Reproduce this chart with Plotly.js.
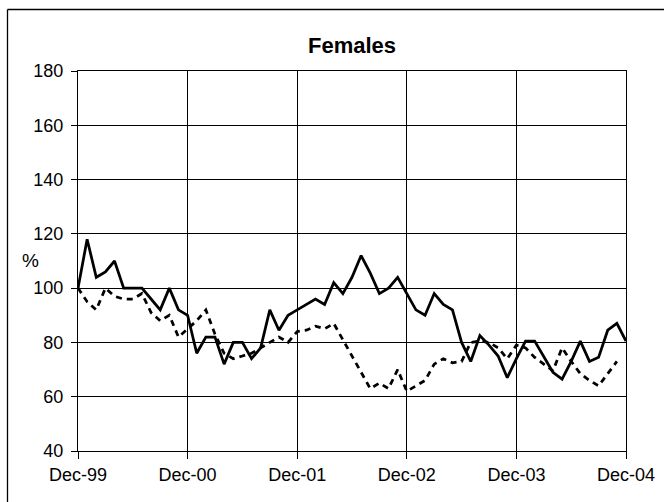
<!DOCTYPE html>
<html>
<head>
<meta charset="utf-8">
<script src="https://cdn.plot.ly/plotly-3.0.1.min.js"></script>
<style>
html,body{margin:0;padding:0;background:#fff;}
#chart{width:664px;height:502px;}
</style>
</head>
<body>
<div id="chart"></div>
<script>
// Month index 0 = Dec-99 ... 60 = Dec-04
const tickPositions = [0, 12, 24, 36, 48, 60];
const tickLabels = ["Dec-99", "Dec-00", "Dec-01", "Dec-02", "Dec-03", "Dec-04"];
const months = [0,1,2,3,4,5,6,7,8,9,10,11,12,13,14,15,16,17,18,19,20,21,22,23,24,25,26,27,28,29,30,31,32,33,34,35,36,37,38,39,40,41,42,43,44,45,46,47,48,49,50,51,52,53,54,55,56,57,58,59,60];

const solidSeries = [100,118,104,106,110,100,100,100,96,92,100,92,90,76,82,82,72,80,80,74,78,92,84.5,90,92,94,96,94,102,98,104,112,105.5,98,100,104,98,92,90,98,94,92,80,73,82.5,79,75,67,74,80.5,80.5,74.5,69,66.5,73,80.5,73,74.5,84.5,87,80.5];
const dashedSeries = [100,95,92,100,97,96,96,98,91,88,90,82,85,88,92,83,76,74,75,76,78,80,82,80,84,84.5,86,85,87,81,75,69,63,65,63,70,62,64,66,72,74,72.5,73,80,80.5,80,78,74,79,78,74.5,72,69.5,78,73,68.5,66,64,68.5,73,null];

const yTicks = [40, 60, 80, 100, 120, 140, 160, 180];

const font = "Liberation Sans, Arial, sans-serif";

const traces = [
  {x: months, y: dashedSeries, type: "scatter", mode: "lines",
   line: {color: "#000", width: 2.75, dash: "6px,5px"}, connectgaps: false, hoverinfo: "skip"},
  {x: months, y: solidSeries, type: "scatter", mode: "lines",
   line: {color: "#000", width: 2.75}, hoverinfo: "skip"}
];

// paper coordinate helpers (plot area: x 78..626, y 71..451)
const L = 78, R = 38, T = 71, B = 51, W = 664, H = 502;
const pw = W - L - R, ph = H - T - B;
const px = v => (v - L) / pw;
const py = v => (H - B - v) / ph;

const layout = {
  width: W, height: H,
  margin: {l: L, r: R, t: T, b: B, pad: 0},
  paper_bgcolor: "#fff", plot_bgcolor: "#fff",
  showlegend: false,
  font: {family: font, color: "#000", size: 18},
  title: {text: "<b>Females</b>", font: {family: font, size: 22, color: "#000"},
          x: 0.5, xanchor: "center", xref: "paper",
          y: 1 - 45 / H, yanchor: "middle", yref: "container"},
  xaxis: {
    range: [0, 60], tickvals: tickPositions, ticktext: tickLabels,
    showgrid: true, gridcolor: "#000", gridwidth: 1,
    showline: true, linecolor: "#000", linewidth: 1, mirror: true,
    ticks: "outside", ticklen: 7, tickcolor: "#000", tickwidth: 1,
    tickfont: {family: font, size: 18, color: "#000"},
    zeroline: false, fixedrange: true
  },
  yaxis: {
    range: [40, 180], tickvals: yTicks,
    showgrid: true, gridcolor: "#000", gridwidth: 1,
    showline: true, linecolor: "#000", linewidth: 1, mirror: true,
    ticks: "outside", ticklen: 6, tickcolor: "#000", tickwidth: 1,
    tickfont: {family: font, size: 18, color: "#000"},
    ticklabelstandoff: 4,
    zeroline: false, fixedrange: true
  },
  annotations: [
    {text: "%", xref: "paper", yref: "paper", x: px(30.5), y: py(260),
     xanchor: "center", yanchor: "middle", showarrow: false,
     font: {family: font, size: 19, color: "#000"}}
  ],
  shapes: [
    {type: "line", xref: "paper", yref: "paper", x0: px(7.5), x1: px(700), y0: py(9.5), y1: py(9.5),
     line: {color: "#000", width: 1.3}},
    {type: "line", xref: "paper", yref: "paper", x0: px(7.5), x1: px(7.5), y0: py(9.5), y1: py(560),
     line: {color: "#000", width: 1.3}}
  ]
};

Plotly.newPlot("chart", traces, layout, {displayModeBar: false, staticPlot: true});
</script>
</body>
</html>
